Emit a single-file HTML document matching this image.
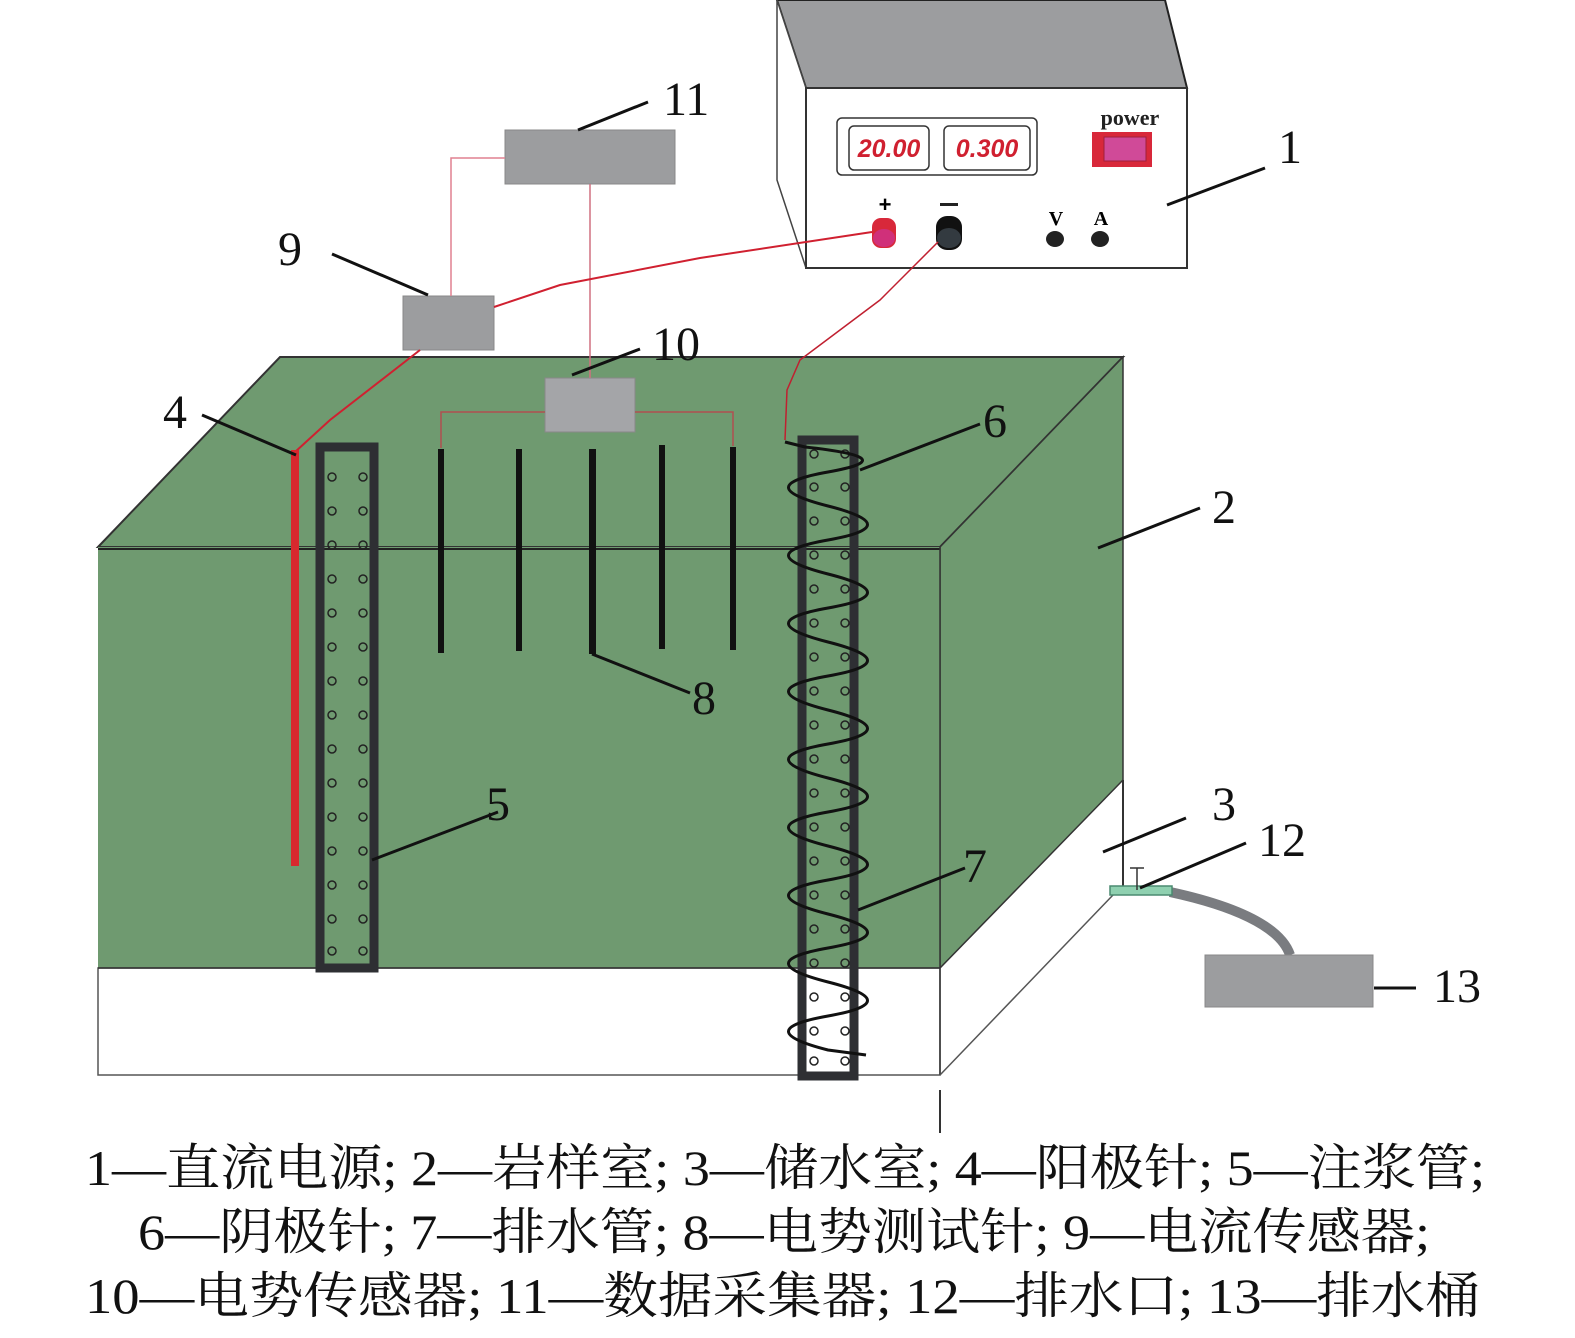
<!DOCTYPE html>
<html><head><meta charset="utf-8"><style>
html,body{margin:0;padding:0;background:#fff;}
svg{display:block;}
.lbl{font-family:"Liberation Serif","Noto Serif CJK SC",serif;font-size:48px;fill:#111;}
.cap{font-family:"Liberation Serif","Noto Serif CJK SC",serif;font-size:50px;fill:#111;}
</style></head><body>
<svg width="1575" height="1338" viewBox="0 0 1575 1338" xmlns="http://www.w3.org/2000/svg">
<!-- power supply -->
<polygon points="777,0 1165,0 1187,88 806,88" fill="#9c9d9f" stroke="#222" stroke-width="2"/>
<polygon points="777,0 806,88 806,268 777,180" fill="#fff" stroke="#444" stroke-width="1.5"/>
<rect x="806" y="88" width="381" height="180" fill="#fff" stroke="#333" stroke-width="2"/>
<rect x="837" y="118" width="200" height="57" rx="5" fill="#fff" stroke="#333" stroke-width="1.5"/>
<rect x="849" y="126" width="80" height="44" rx="5" fill="#fff" stroke="#333" stroke-width="1.5"/>
<rect x="944" y="126" width="86" height="44" rx="5" fill="#fff" stroke="#333" stroke-width="1.5"/>
<text x="889" y="157" font-family="Liberation Sans,sans-serif" font-size="25" font-style="italic" font-weight="bold" fill="#d02030" text-anchor="middle">20.00</text>
<text x="987" y="157" font-family="Liberation Sans,sans-serif" font-size="25" font-style="italic" font-weight="bold" fill="#d02030" text-anchor="middle">0.300</text>
<text x="1130" y="125" font-family="Liberation Serif,serif" font-size="22" font-weight="bold" fill="#222" text-anchor="middle">power</text>
<rect x="1092" y="132" width="60" height="35" fill="#d8283a"/>
<rect x="1104" y="137" width="42" height="24" fill="#d04a98" stroke="#a0203a"/>
<text x="885" y="212" font-family="Liberation Sans,sans-serif" font-size="22" font-weight="bold" text-anchor="middle">+</text>
<rect x="940" y="203" width="18" height="3" fill="#222"/>
<rect x="872" y="218" width="24" height="30" rx="9" fill="#d8283a"/>
<ellipse cx="884" cy="238" rx="11" ry="9" fill="#d0307a"/>
<rect x="936" y="216" width="26" height="34" rx="11" fill="#111"/>
<ellipse cx="949" cy="238" rx="12" ry="10" fill="#333a40"/>
<text x="1056" y="225" font-family="Liberation Serif,serif" font-size="20" font-weight="bold" text-anchor="middle">V</text>
<text x="1101" y="225" font-family="Liberation Serif,serif" font-size="20" font-weight="bold" text-anchor="middle">A</text>
<ellipse cx="1055" cy="239" rx="9" ry="8" fill="#222"/>
<ellipse cx="1100" cy="239" rx="9" ry="8" fill="#222"/>

<!-- box -->
<polygon points="98,547 280,357 1123,357 940,547" fill="#6f9a70" stroke="#333" stroke-width="2"/>
<polygon points="940,547 1123,357 1123,780 940,968" fill="#6f9a70" stroke="#333" stroke-width="1.5"/>
<rect x="98" y="547" width="842" height="421" fill="#6f9a70"/>
<line x1="98" y1="549" x2="940" y2="549" stroke="#222" stroke-width="2"/>
<rect x="98" y="968" width="842" height="107" fill="#fff" stroke="#555" stroke-width="1.5"/>
<line x1="98" y1="968" x2="940" y2="968" stroke="#333" stroke-width="1.5"/>
<line x1="940" y1="547" x2="940" y2="1075" stroke="#333" stroke-width="1.5"/>
<line x1="940" y1="1075" x2="1113" y2="895" stroke="#555" stroke-width="1.5"/>
<line x1="1123" y1="780" x2="1123" y2="892" stroke="#333" stroke-width="2"/>
<line x1="940" y1="1090" x2="940" y2="1133" stroke="#333" stroke-width="2"/>

<!-- drain outlet and hose -->
<path d="M1170,892 C1230,905 1280,925 1290,955" fill="none" stroke="#7a7c80" stroke-width="10"/>
<rect x="1110" y="886" width="62" height="9" fill="#8fd0b0" stroke="#4a8a70" stroke-width="1.5"/>
<line x1="1137" y1="868" x2="1137" y2="890" stroke="#333" stroke-width="1.5"/>
<line x1="1130" y1="868" x2="1144" y2="868" stroke="#333" stroke-width="1.5"/>
<rect x="1205" y="955" width="168" height="52" fill="#9c9d9f" stroke="#888"/>

<!-- sensors -->
<rect x="505" y="130" width="170" height="54" fill="#9c9d9f" stroke="#888"/>
<rect x="403" y="296" width="91" height="54" fill="#9c9d9f" stroke="#888"/>
<rect x="545" y="378" width="90" height="54" fill="#a4a5a8" stroke="#888"/>
<polyline points="505,158 451,158 451,296" fill="none" stroke="#e08090" stroke-width="1.5"/>
<line x1="590" y1="184" x2="590" y2="378" stroke="#d07080" stroke-width="1.5"/>
<polyline points="545,412 441,412 441,448" fill="none" stroke="#b05050" stroke-width="1.5"/>
<polyline points="635,412 733,412 733,446" fill="none" stroke="#b05050" stroke-width="1.5"/>
<!-- red wires -->
<path d="M494,307 L560,285 L700,258 L872,232" fill="none" stroke="#d02030" stroke-width="2"/>
<path d="M420,350 L330,420 L295,452" fill="none" stroke="#d02030" stroke-width="2"/>
<path d="M938,242 L880,300 L800,360 L787,390 L785,440" fill="none" stroke="#c02030" stroke-width="1.5"/>
<!-- anode -->
<rect x="291" y="450" width="8" height="416" fill="#d8282e"/>
<!-- probes -->
<rect x="438" y="449" width="6" height="204" fill="#111"/>
<rect x="516" y="449" width="6" height="202" fill="#111"/>
<rect x="589" y="449" width="7" height="205" fill="#111"/>
<rect x="659" y="445" width="6" height="204" fill="#111"/>
<rect x="730" y="447" width="6" height="203" fill="#111"/>
<!-- grout pipe 5 -->
<rect x="320" y="447" width="54" height="521" fill="none" stroke="#2e2f33" stroke-width="9"/>
<g fill="none" stroke="#222" stroke-width="1.5">
<circle cx="332" cy="477" r="4"/><circle cx="363" cy="477" r="4"/>
<circle cx="332" cy="511" r="4"/><circle cx="363" cy="511" r="4"/>
<circle cx="332" cy="545" r="4"/><circle cx="363" cy="545" r="4"/>
<circle cx="332" cy="579" r="4"/><circle cx="363" cy="579" r="4"/>
<circle cx="332" cy="613" r="4"/><circle cx="363" cy="613" r="4"/>
<circle cx="332" cy="647" r="4"/><circle cx="363" cy="647" r="4"/>
<circle cx="332" cy="681" r="4"/><circle cx="363" cy="681" r="4"/>
<circle cx="332" cy="715" r="4"/><circle cx="363" cy="715" r="4"/>
<circle cx="332" cy="749" r="4"/><circle cx="363" cy="749" r="4"/>
<circle cx="332" cy="783" r="4"/><circle cx="363" cy="783" r="4"/>
<circle cx="332" cy="817" r="4"/><circle cx="363" cy="817" r="4"/>
<circle cx="332" cy="851" r="4"/><circle cx="363" cy="851" r="4"/>
<circle cx="332" cy="885" r="4"/><circle cx="363" cy="885" r="4"/>
<circle cx="332" cy="919" r="4"/><circle cx="363" cy="919" r="4"/>
<circle cx="332" cy="951" r="4"/><circle cx="363" cy="951" r="4"/>
</g>
<!-- drain pipe 7 -->
<rect x="802" y="440" width="52" height="636" fill="none" stroke="#2e2f33" stroke-width="9"/>
<g fill="none" stroke="#222" stroke-width="1.5">
<circle cx="814" cy="454" r="4"/><circle cx="845" cy="454" r="4"/>
<circle cx="814" cy="487" r="4"/><circle cx="845" cy="487" r="4"/>
<circle cx="814" cy="521" r="4"/><circle cx="845" cy="521" r="4"/>
<circle cx="814" cy="555" r="4"/><circle cx="845" cy="555" r="4"/>
<circle cx="814" cy="589" r="4"/><circle cx="845" cy="589" r="4"/>
<circle cx="814" cy="623" r="4"/><circle cx="845" cy="623" r="4"/>
<circle cx="814" cy="657" r="4"/><circle cx="845" cy="657" r="4"/>
<circle cx="814" cy="691" r="4"/><circle cx="845" cy="691" r="4"/>
<circle cx="814" cy="725" r="4"/><circle cx="845" cy="725" r="4"/>
<circle cx="814" cy="759" r="4"/><circle cx="845" cy="759" r="4"/>
<circle cx="814" cy="793" r="4"/><circle cx="845" cy="793" r="4"/>
<circle cx="814" cy="827" r="4"/><circle cx="845" cy="827" r="4"/>
<circle cx="814" cy="861" r="4"/><circle cx="845" cy="861" r="4"/>
<circle cx="814" cy="895" r="4"/><circle cx="845" cy="895" r="4"/>
<circle cx="814" cy="929" r="4"/><circle cx="845" cy="929" r="4"/>
<circle cx="814" cy="963" r="4"/><circle cx="845" cy="963" r="4"/>
<circle cx="814" cy="997" r="4"/><circle cx="845" cy="997" r="4"/>
<circle cx="814" cy="1031" r="4"/><circle cx="845" cy="1031" r="4"/>
<circle cx="814" cy="1061" r="4"/><circle cx="845" cy="1061" r="4"/>
</g>
<!-- helix -->
<path d="M785,442 L805,447 Q907,458 828,472 T828,506 T828,540 T828,574 T828,608 T828,642 T828,676 T828,710 T828,744 T828,778 T828,812 T828,846 T828,880 T828,914 T828,948 T828,982 T828,1016 T828,1050 L866,1055" fill="none" stroke="#111" stroke-width="3"/>

<!-- leader lines -->
<g stroke="#111" stroke-width="3" fill="none">
<line x1="578" y1="130" x2="648" y2="102"/>
<line x1="332" y1="254" x2="428" y2="295"/>
<line x1="572" y1="375" x2="640" y2="349"/>
<line x1="202" y1="415" x2="296" y2="455"/>
<line x1="1167" y1="205" x2="1265" y2="168"/>
<line x1="860" y1="470" x2="980" y2="424"/>
<line x1="1098" y1="548" x2="1200" y2="508"/>
<line x1="592" y1="654" x2="690" y2="693"/>
<line x1="372" y1="860" x2="498" y2="812"/>
<line x1="858" y1="910" x2="965" y2="868"/>
<line x1="1103" y1="852" x2="1186" y2="818"/>
<line x1="1140" y1="888" x2="1246" y2="843"/>
<line x1="1374" y1="988" x2="1416" y2="988"/>
</g>
<text class="lbl" x="663" y="115">11</text>
<text class="lbl" x="278" y="265">9</text>
<text class="lbl" x="652" y="360">10</text>
<text class="lbl" x="163" y="428">4</text>
<text class="lbl" x="1278" y="163">1</text>
<text class="lbl" x="983" y="437">6</text>
<text class="lbl" x="1212" y="523">2</text>
<text class="lbl" x="692" y="714">8</text>
<text class="lbl" x="486" y="820">5</text>
<text class="lbl" x="963" y="882">7</text>
<text class="lbl" x="1212" y="820">3</text>
<text class="lbl" x="1258" y="856">12</text>
<text class="lbl" x="1433" y="1002">13</text>

<!-- caption -->
<text class="cap" x="85" y="1185" textLength="1400" lengthAdjust="spacingAndGlyphs">1—直流电源; 2—岩样室; 3—储水室; 4—阳极针; 5—注浆管;</text>
<text class="cap" x="138" y="1249" textLength="1292" lengthAdjust="spacingAndGlyphs">6—阴极针; 7—排水管; 8—电势测试针; 9—电流传感器;</text>
<text class="cap" x="85" y="1313" textLength="1395" lengthAdjust="spacingAndGlyphs">10—电势传感器;  11—数据采集器; 12—排水口; 13—排水桶</text>
</svg>
</body></html>
